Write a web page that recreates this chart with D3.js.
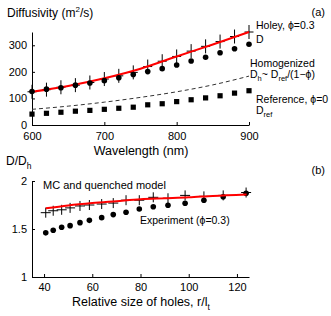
<!DOCTYPE html>
<html>
<head>
<meta charset="utf-8">
<script src="https://cdn.jsdelivr.net/npm/d3@7"></script>
<style>
  body { margin: 0; background: #fff; }
  svg { font-family: "Liberation Sans", Arial, Helvetica, sans-serif; }
  .axis path, .axis line { stroke: #000; stroke-width: 1; }
  .axis text { font-size: 11px; fill: #000; }
</style>
</head>
<body>
<div id="chart"></div>
<script>
// --- DATA: panel (a) ---
var wavelengths = [600, 620, 640, 660, 680, 700, 720, 740, 760, 780, 800, 820, 840, 860, 880, 900];
var holeyMeasured = [126, 135, 140, 150, 158, 167, 178, 190, 201, 212, 226, 241, 255, 272, 287, 304];
var holeySim = [125, 133, 142, 150, 160, 173, 185, 198, 220, 240, 258, 278, 296, 314, 333, 350];
var refValues = [41, 44, 48, 52, 55, 59, 63, 67, 76, 80, 88, 95, 102, 110, 120, 129];
var fitWl = [600, 650, 700, 750, 800, 850, 900];
var fitD = [125, 147, 176, 212, 258, 303, 350];
var homogD = [59, 71, 86, 104, 125, 151, 184];
var ticksA_x = [600, 700, 800, 900];
var ticksA_y = [0, 100, 200, 300];

// --- DATA: panel (b) ---
var relSize = [40.7, 43.8, 47.3, 50.8, 54.9, 58.8, 63.9, 68.7, 74.0, 79.5, 85.3, 91.4, 98.5, 106.3, 114.3, 123.8];
var ratioExp = [1.46, 1.487, 1.518, 1.535, 1.566, 1.59, 1.618, 1.65, 1.674, 1.708, 1.732, 1.747, 1.768, 1.80, 1.836, 1.872];
var ratioMC = [1.67, 1.69, 1.70, 1.72, 1.74, 1.75, 1.76, 1.77, 1.80, 1.80, 1.83, 1.82, 1.85, 1.84, 1.85, 1.88];
var modelR = [40.7, 50, 60, 70, 80, 90, 100, 110, 124];
var modelRatio = [1.715, 1.745, 1.77, 1.79, 1.81, 1.82, 1.83, 1.845, 1.86];
var ticksB_x = [40, 60, 80, 100, 120];
var ticksB_y = [1, 1.5, 2];
var ticksB_ylabels = ["1", "1.5", "2"];

var width = 331, height = 316;
var svg = d3.select("#chart").append("svg")
  .attr("width", width)
  .attr("height", height);

// --- PANEL (a) ---
var xA = d3.scaleLinear().domain([600, 900]).range([32, 249]);
var yA = d3.scaleLinear().domain([0, 350]).range([125, 32]);

svg.append("g").attr("class", "axis")
  .attr("transform", "translate(0,125)")
  .call(d3.axisBottom(xA).tickValues(ticksA_x).tickSizeInner(-3).tickSizeOuter(0).tickPadding(7));
svg.append("g").attr("class", "axis")
  .attr("transform", "translate(32,0)")
  .call(d3.axisLeft(yA).tickValues(ticksA_y).tickSizeInner(-3).tickSizeOuter(0).tickPadding(5));

// dashed homogenized line
var lineA = d3.line().x(function(d) { return xA(d[0]); }).y(function(d) { return yA(d[1]); }).curve(d3.curveMonotoneX);
svg.append("path")
  .datum(fitWl.map(function(w, i) { return [w, homogD[i]]; }))
  .attr("d", lineA)
  .attr("fill", "none")
  .attr("stroke", "#333")
  .attr("stroke-width", 1)
  .attr("stroke-dasharray", "4,3");

// reference squares
svg.selectAll(".sq").data(wavelengths).enter().append("rect")
  .attr("x", function(d) { return xA(d) - 2.6; })
  .attr("y", function(d, i) { return yA(refValues[i]) - 2.6; })
  .attr("width", 5.2).attr("height", 5.2)
  .attr("fill", "#000");

// simulated crosses with error bars
var crossA = svg.append("g").attr("stroke", "#000").attr("stroke-width", 1);
wavelengths.forEach(function(w, i) {
  var cx = xA(w), cy = yA(holeySim[i]);
  crossA.append("line").attr("x1", cx - 4.5).attr("x2", cx + 4.5).attr("y1", cy).attr("y2", cy);
  crossA.append("line").attr("x1", cx).attr("x2", cx).attr("y1", cy - 7).attr("y2", cy + 7);
});

// fit red line
svg.append("path")
  .datum(fitWl.map(function(w, i) { return [w, fitD[i]]; }))
  .attr("d", lineA)
  .attr("fill", "none")
  .attr("stroke", "#f00")
  .attr("stroke-width", 2);

// measured circles
svg.selectAll(".circA").data(wavelengths).enter().append("circle")
  .attr("cx", function(d) { return xA(d); })
  .attr("cy", function(d, i) { return yA(holeyMeasured[i]); })
  .attr("r", 2.8)
  .attr("fill", "#000");

// labels (a)
var t = svg.append("text").attr("x", 7).attr("y", 17).attr("font-size", 12);
t.append("tspan").text("Diffusivity (m");
t.append("tspan").attr("font-size", 8).attr("dy", -5).text("2");
t.append("tspan").attr("dy", 5).text("/s)");

svg.append("text").attr("x", 325).attr("y", 16).attr("text-anchor", "end").attr("font-size", 11).text("(a)");
svg.append("text").attr("x", 256).attr("y", 29).attr("font-size", 10.5).text("Holey, \u03d5=0.3");
svg.append("text").attr("x", 256).attr("y", 43).attr("font-size", 10.5).text("D");
svg.append("text").attr("x", 250).attr("y", 67).attr("font-size", 10.5).text("Homogenized");
var th = svg.append("text").attr("x", 250).attr("y", 78).attr("font-size", 10.5);
th.append("tspan").text("D");
th.append("tspan").attr("font-size", 7.5).attr("dy", 3).text("h");
th.append("tspan").attr("dy", -3).text("~ D");
th.append("tspan").attr("font-size", 7.5).attr("dy", 3).text("ref");
th.append("tspan").attr("dy", -3).text("/(1\u2212\u03d5)");
svg.append("text").attr("x", 256).attr("y", 103).attr("font-size", 10.5).text("Reference, \u03d5=0");
var tr = svg.append("text").attr("x", 256).attr("y", 114).attr("font-size", 10.5);
tr.append("tspan").text("D");
tr.append("tspan").attr("font-size", 7.5).attr("dy", 3).text("ref");

svg.append("text").attr("x", 141).attr("y", 155).attr("text-anchor", "middle").attr("font-size", 12.5).text("Wavelength (nm)");

// --- PANEL (b) ---
var xB = d3.scaleLinear().domain([35, 125]).range([32, 249]);
var yB = d3.scaleLinear().domain([1, 2]).range([277, 181]);

svg.append("g").attr("class", "axis")
  .attr("transform", "translate(0,277)")
  .call(d3.axisBottom(xB).tickValues(ticksB_x).tickSizeInner(-3).tickSizeOuter(0).tickPadding(6));
svg.append("g").attr("class", "axis")
  .attr("transform", "translate(32,0)")
  .call(d3.axisLeft(yB).tickValues(ticksB_y).tickFormat(function(d, i) { return ticksB_ylabels[i]; })
    .tickSizeInner(-3).tickSizeOuter(0).tickPadding(5));

// experiment circles
svg.selectAll(".circB").data(relSize).enter().append("circle")
  .attr("cx", function(d) { return xB(d); })
  .attr("cy", function(d, i) { return yB(ratioExp[i]); })
  .attr("r", 2.8)
  .attr("fill", "#000");

// MC crosses
var crossB = svg.append("g").attr("stroke", "#000").attr("stroke-width", 1);
relSize.forEach(function(r, i) {
  var cx = xB(r), cy = yB(ratioMC[i]);
  crossB.append("line").attr("x1", cx - 5).attr("x2", cx + 5).attr("y1", cy).attr("y2", cy);
  crossB.append("line").attr("x1", cx).attr("x2", cx).attr("y1", cy - 5).attr("y2", cy + 5);
});

// quenched model red line
var lineB = d3.line().x(function(d) { return xB(d[0]); }).y(function(d) { return yB(d[1]); }).curve(d3.curveMonotoneX);
svg.append("path")
  .datum(modelR.map(function(r, i) { return [r, modelRatio[i]]; }))
  .attr("d", lineB)
  .attr("fill", "none")
  .attr("stroke", "#f00")
  .attr("stroke-width", 2);

// labels (b)
var td = svg.append("text").attr("x", 6).attr("y", 165).attr("font-size", 12);
td.append("tspan").text("D/D");
td.append("tspan").attr("font-size", 8.5).attr("dy", 4).text("h");

svg.append("text").attr("x", 325).attr("y", 174).attr("text-anchor", "end").attr("font-size", 11).text("(b)");
svg.append("text").attr("x", 43).attr("y", 189).attr("font-size", 11).text("MC and quenched model");
svg.append("text").attr("x", 140).attr("y", 224).attr("font-size", 10.5).text("Experiment (\u03d5=0.3)");

var tx = svg.append("text").attr("x", 72).attr("y", 306).attr("font-size", 12.5);
tx.append("tspan").text("Relative size of holes, r/l");
tx.append("tspan").attr("font-size", 8.5).attr("dy", 4).text("t");
</script>
</body>
</html>
